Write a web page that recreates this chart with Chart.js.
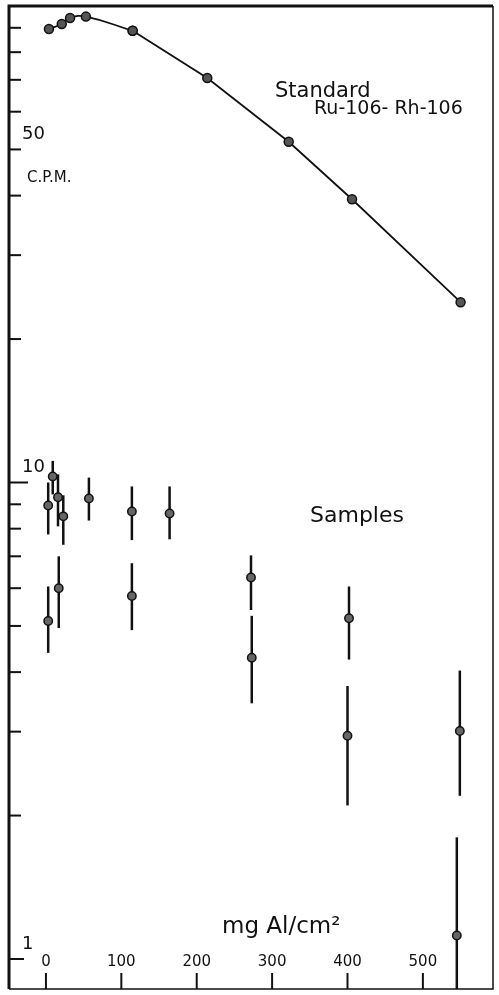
<!DOCTYPE html>
<html>
<head>
<meta charset="utf-8">
<script src="https://cdn.jsdelivr.net/npm/chart.js@4/dist/chart.umd.min.js"></script>
<style>
  html, body { margin: 0; padding: 0; background: #fff; }
  #wrap { width: 499px; height: 995px; }
</style>
</head>
<body>
<div id="wrap"><canvas id="absorption-chart" width="499" height="995"></canvas></div>
<script>
// Standard Ru-106 / Rh-106 absorption curve
const standardX = [4, 21, 32, 53, 115, 214, 322, 406, 550];
const standardY = [89.5, 91.7, 94.4, 95.0, 88.7, 70.6, 51.9, 39.3, 23.9];
const STANDARD_SMOOTH_END = 4; // hand-drawn smooth hump up to this index, straight after

// Samples with error bars
const sampleX    = [3, 9, 16, 23, 57, 114, 164, 3, 17, 114, 272, 273, 402, 400, 549, 545];
const sampleY    = [8.95, 10.3, 9.31, 8.49, 9.26, 8.69, 8.61, 5.12, 6.00, 5.78, 6.32, 4.29, 5.19, 2.94, 3.01, 1.12];
const sampleLow  = [7.78, 9.44, 8.09, 7.40, 8.32, 7.57, 7.60, 4.39, 4.95, 4.90, 5.40, 3.44, 4.25, 2.10, 2.20, 0.80];
const sampleHigh = [10.0, 11.1, 10.4, 9.40, 10.24, 9.81, 9.81, 6.05, 7.00, 6.77, 7.03, 5.25, 6.05, 3.74, 4.03, 1.80];

// Axes
const xTickValues = [0, 100, 200, 300, 400, 500];
const xTickLabels = ["0", "100", "200", "300", "400", "500"];
const yTickValues = [1, 2, 3, 4, 5, 6, 7, 8, 9, 10, 20, 30, 40, 50, 60, 70, 80, 90];
const yLabelValues = [1, 10, 50];
const yLabelTexts = ["1", "10", "50"];

const INK = "#111";
const FONT = "'DejaVu Sans', sans-serif";

function toPoints(xs, ys) {
  return xs.map((x, i) => ({ x, y: ys[i] }));
}

const standardPoints = toPoints(standardX, standardY);

const errorBars = {
  id: "errorBars",
  beforeDatasetsDraw(chart) {
    const { ctx, chartArea, scales } = chart;
    ctx.save();
    ctx.beginPath();
    ctx.rect(chartArea.left, chartArea.top, chartArea.right - chartArea.left, chartArea.bottom - chartArea.top);
    ctx.clip();
    ctx.strokeStyle = INK;
    ctx.lineWidth = 2.5;
    sampleX.forEach((x, i) => {
      const px = scales.x.getPixelForValue(x);
      ctx.beginPath();
      ctx.moveTo(px, scales.y.getPixelForValue(sampleHigh[i]));
      ctx.lineTo(px, scales.y.getPixelForValue(sampleLow[i]));
      ctx.stroke();
    });
    ctx.restore();
  },
};

const frameAndText = {
  id: "frameAndText",
  afterDraw(chart) {
    const { ctx, chartArea: a, scales } = chart;
    ctx.save();
    ctx.strokeStyle = INK;
    ctx.fillStyle = INK;

    // frame
    ctx.lineWidth = 3;
    ctx.beginPath(); ctx.moveTo(a.left, a.bottom); ctx.lineTo(a.left, a.top); ctx.lineTo(a.right, a.top); ctx.stroke();
    ctx.lineWidth = 1.5;
    ctx.beginPath(); ctx.moveTo(a.right, a.top); ctx.lineTo(a.right, a.bottom); ctx.lineTo(a.left, a.bottom); ctx.stroke();

    // y ticks (inward)
    ctx.lineWidth = 2;
    yTickValues.forEach((v) => {
      const py = scales.y.getPixelForValue(v);
      const len = v === 10 ? 19 : v === 1 ? 15 : 12;
      ctx.beginPath(); ctx.moveTo(a.left, py); ctx.lineTo(a.left + len, py); ctx.stroke();
    });

    // x ticks (inward, from bottom)
    xTickValues.forEach((v) => {
      const px = scales.x.getPixelForValue(v);
      ctx.beginPath(); ctx.moveTo(px, a.bottom); ctx.lineTo(px, a.bottom - 16); ctx.stroke();
    });

    // y labels
    ctx.font = "18px " + FONT;
    ctx.textAlign = "left";
    ctx.textBaseline = "bottom";
    yLabelValues.forEach((v, i) => {
      const py = scales.y.getPixelForValue(v);
      ctx.fillText(yLabelTexts[i], a.left + 13, py - 6);
    });

    // x labels
    ctx.font = "15px " + FONT;
    ctx.textAlign = "center";
    ctx.textBaseline = "middle";
    xTickValues.forEach((v, i) => {
      ctx.fillText(xTickLabels[i], scales.x.getPixelForValue(v), a.bottom - 27);
    });

    // annotations
    ctx.textAlign = "left";
    ctx.font = "15px " + FONT;
    ctx.fillText("C.P.M.", 27, 178);
    ctx.font = "21px " + FONT;
    ctx.fillText("Standard", 275, 92);
    ctx.font = "19px " + FONT;
    ctx.fillText("Ru-106- Rh-106", 314, 109);
    ctx.font = "22px " + FONT;
    ctx.fillText("Samples", 310, 516);
    ctx.font = "23px " + FONT;
    ctx.fillText("mg Al/cm\u00B2", 222, 927);
    ctx.restore();
  },
};

const standardStyle = {
  showLine: true,
  borderColor: INK,
  borderWidth: 1.8,
  pointRadius: 4.5,
  pointBackgroundColor: "#555",
  pointBorderColor: INK,
  pointBorderWidth: 1.5,
};

new Chart(document.getElementById("absorption-chart"), {
  type: "scatter",
  data: {
    datasets: [
      {
        ...standardStyle,
        label: "Standard",
        data: standardPoints.slice(0, STANDARD_SMOOTH_END + 1),
        tension: 0.45,
      },
      {
        ...standardStyle,
        label: "Standard (straight)",
        data: standardPoints.slice(STANDARD_SMOOTH_END),
        tension: 0,
      },
      {
        label: "Samples",
        data: toPoints(sampleX, sampleY),
        showLine: false,
        pointRadius: 4.2,
        pointBackgroundColor: "#666",
        pointBorderColor: INK,
        pointBorderWidth: 1.5,
      },
    ],
  },
  options: {
    responsive: false,
    animation: false,
    layout: { padding: { left: 9, right: 6, top: 5, bottom: 4 } },
    plugins: {
      legend: { display: false },
      tooltip: { enabled: false },
    },
    scales: {
      x: { type: "linear", min: -49, max: 593, display: false },
      y: { type: "logarithmic", min: 0.865, max: 100, display: false },
    },
  },
  plugins: [errorBars, frameAndText],
});
</script>
</body>
</html>
